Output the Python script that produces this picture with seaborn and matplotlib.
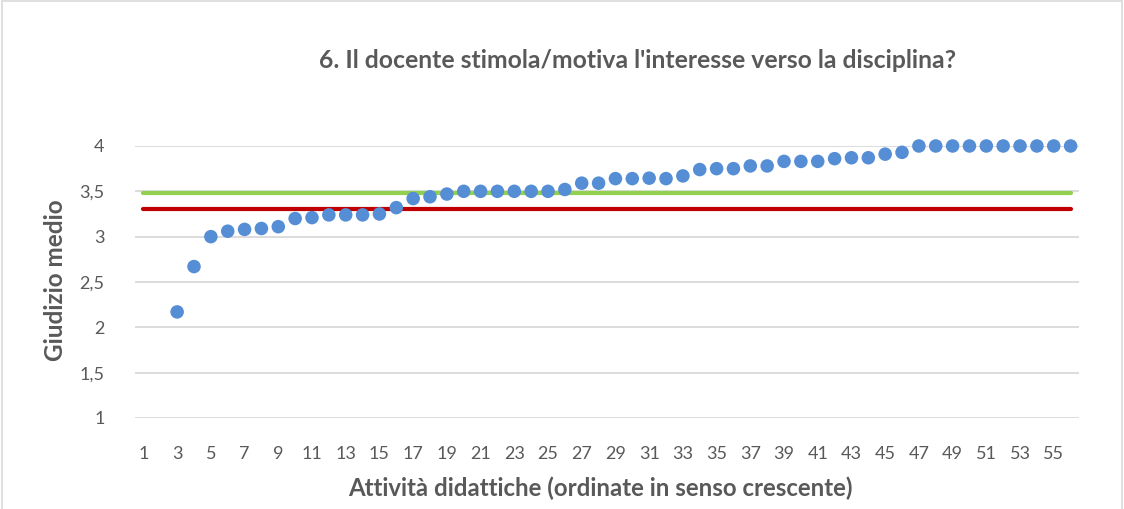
import matplotlib
matplotlib.use("Agg")
import matplotlib.pyplot as plt
import numpy as np
import pandas as pd
import seaborn as sns

#%% Data
categories = list(range(1, 57))          # attività 1..56 (asse categorie)
point_cats = list(range(3, 57))          # punti visibili da 3 a 56
point_vals = [2.17, 2.67, 3.00, 3.06, 3.08, 3.09, 3.11, 3.20, 3.21, 3.24,
              3.24, 3.24, 3.25, 3.32, 3.42, 3.44, 3.47, 3.50, 3.50, 3.50,
              3.50, 3.50, 3.50, 3.52, 3.59, 3.59, 3.64, 3.64, 3.645, 3.64,
              3.67, 3.74, 3.75, 3.75, 3.78, 3.78, 3.83, 3.83, 3.83, 3.86,
              3.87, 3.87, 3.91, 3.93, 4.00, 4.00, 4.00, 4.00, 4.00, 4.00,
              4.00, 4.00, 4.00, 4.00]
green_mean = 3.48
red_mean = 3.30
y_ticks = [1, 1.5, 2, 2.5, 3, 3.5, 4]
y_labels = ['1', '1,5', '2', '2,5', '3', '3,5', '4']
x_ticks = list(range(1, 57, 2))

df = pd.DataFrame({'Attivita': point_cats, 'Giudizio': point_vals})

#%% Plot
sns.set_style('white')
plt.rcParams['font.family'] = ['Lato', 'DejaVu Sans']
txt = '#595959'

fig = plt.figure(figsize=(11.24, 5.09), dpi=100)
ax = fig.add_axes([0.1201, 0.1788, 0.8399, 0.5344])

for v in y_ticks:
    ax.axhline(v, color='#D9D9D9', lw=1.3, zorder=0)

ax.plot(categories, [green_mean] * len(categories), color='#92D050', lw=3, solid_capstyle='round', zorder=2)
ax.plot(categories, [red_mean] * len(categories), color='#C00000', lw=3, solid_capstyle='round', zorder=2)

sns.scatterplot(data=df, x='Attivita', y='Giudizio', ax=ax, color='#558ED5',
                s=95, edgecolor='none', zorder=3, clip_on=False)

ax.set_xlim(0.5, 56.5)
ax.set_ylim(1, 4)
ax.set_yticks(y_ticks)
ax.set_yticklabels(y_labels)
ax.set_xticks(x_ticks)
ax.set_xticklabels([str(c) for c in x_ticks])
ax.tick_params(axis='both', length=0, labelsize=13, colors=txt)
ax.tick_params(axis='y', pad=22)
ax.tick_params(axis='x', pad=20)
for s in ax.spines.values():
    s.set_visible(False)

ax.set_xlabel('Attività didattiche (ordinate in senso crescente)', fontsize=17.3,
              fontweight='bold', color=txt)
ax.set_ylabel('Giudizio medio', fontsize=17.5, fontweight='bold', color=txt)
ax.xaxis.set_label_coords(0.4926, -0.215)
ax.yaxis.set_label_coords(-0.072, 0.505)
fig.text(0.567, 0.882, "6. Il docente stimola/motiva l'interesse verso la disciplina?",
         ha='center', va='center', fontsize=17.8, fontweight='bold', color=txt)

# bordo dell'area grafico
fig.patches.append(plt.Rectangle((0.002, -0.01), 0.996, 1.008, transform=fig.transFigure,
                                 fill=False, edgecolor='#D9D9D9', lw=1.2))

fig.savefig('out.png', dpi=100, facecolor='white')
